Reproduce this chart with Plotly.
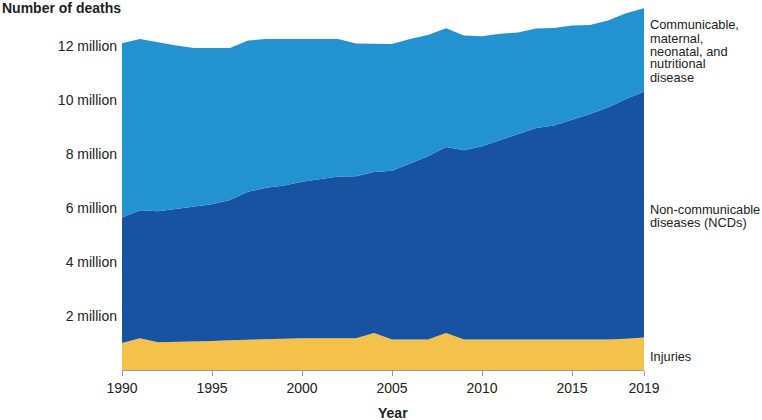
import plotly.graph_objects as go

years = list(range(1990, 2020))
# readings in millions: injuries, top of NCD band (cumulative), total (cumulative)
injuries = [1.00, 1.18, 1.03, 1.04, 1.05, 1.07, 1.10, 1.12, 1.15, 1.18,
            1.18, 1.18, 1.18, 1.18, 1.37, 1.13, 1.13, 1.13, 1.37, 1.13,
            1.13, 1.13, 1.13, 1.13, 1.13, 1.13, 1.13, 1.13, 1.16, 1.20]
ncd_top = [5.65, 5.92, 5.88, 5.97, 6.05, 6.14, 6.30, 6.60, 6.75, 6.83,
           6.97, 7.08, 7.17, 7.18, 7.33, 7.38, 7.64, 7.92, 8.26, 8.14,
           8.29, 8.51, 8.74, 8.96, 9.06, 9.27, 9.48, 9.72, 10.04, 10.31]
total = [12.10, 12.26, 12.14, 12.02, 11.93, 11.93, 11.93, 12.20, 12.26, 12.26,
         12.26, 12.26, 12.26, 12.09, 12.09, 12.07, 12.26, 12.41, 12.66, 12.39,
         12.36, 12.45, 12.50, 12.65, 12.67, 12.76, 12.78, 12.94, 13.21, 13.40]

ncds = [round(n - i, 3) for n, i in zip(ncd_top, injuries)]
communicable = [round(t - n, 3) for t, n in zip(total, ncd_top)]

series = [
    ("Injuries", injuries, "#F4C24B"),
    ("Non-communicable diseases (NCDs)", ncds, "#1753A0"),
    ("Communicable, maternal, neonatal, and nutritional disease", communicable, "#2292D0"),
]

x_ticks = [1990, 1995, 2000, 2005, 2010, 2015, 2019]
y_ticks = [2, 4, 6, 8, 10, 12]
y_tick_text = [f"{v} million" for v in y_ticks]

label_lines = [
    (["Communicable,", "maternal,", "neonatal, and", "nutritional", "disease"], 25),
    (["Non-communicable", "diseases (NCDs)"], 210),
    (["Injuries"], 356),
]

fig = go.Figure()
for name, vals, col in series:
    fig.add_trace(go.Scatter(
        x=years, y=[v * 1e6 for v in vals], name=name, mode="lines",
        stackgroup="one", line=dict(width=0, color=col), fillcolor=col,
        hoverinfo="skip"))

font_family = "Liberation Sans, Arial, sans-serif"
TOP, BOTTOM = 4, 370
PLOT_H = BOTTOM - TOP
fig.update_layout(
    width=762, height=420,
    margin=dict(l=122, r=118, t=TOP, b=420 - BOTTOM),
    plot_bgcolor="white", paper_bgcolor="white",
    showlegend=False, hovermode=False,
    font=dict(family=font_family, color="#222222"),
    xaxis=dict(range=[1990, 2019], tickvals=x_ticks, ticks="outside", ticklen=5,
               tickcolor="#999999", showline=True, linecolor="#999999", linewidth=1,
               showgrid=False, zeroline=False, tickfont=dict(size=14, color="#222222")),
    yaxis=dict(range=[0, PLOT_H / 27.0 * 1e6], tickvals=[v * 1e6 for v in y_ticks],
               ticktext=y_tick_text, showgrid=False, zeroline=False, showline=False,
               ticks="", ticklabelstandoff=4, tickfont=dict(size=14, color="#222222")),
)

for lines, y0 in label_lines:
    step = 13 if len(lines) > 2 else 12.5
    for k, ln in enumerate(lines):
        ypix = y0 + k * step
        fig.add_annotation(x=1, y=(BOTTOM - ypix) / PLOT_H, xref="paper", yref="paper",
                           xanchor="left", yanchor="middle", xshift=5, text=ln,
                           showarrow=False, align="left", borderpad=0,
                           font=dict(size=12.8, color="#222222"))

fig.add_annotation(x=0, y=1, xref="paper", yref="paper", xanchor="left", yanchor="middle",
                   xshift=-122, yshift=-4, text="<b>Number of deaths</b>", showarrow=False,
                   font=dict(size=14, color="#222222"))
fig.add_annotation(x=1990 + (393 - 122) / 18.0, y=0, xref="x", yref="paper",
                   xanchor="center", yanchor="middle", yshift=-(413 - BOTTOM),
                   text="<b>Year</b>", showarrow=False, font=dict(size=14, color="#222222"))

fig.write_html("out.html", config={"displayModeBar": False},
               post_script="document.body.style.margin='0';")
